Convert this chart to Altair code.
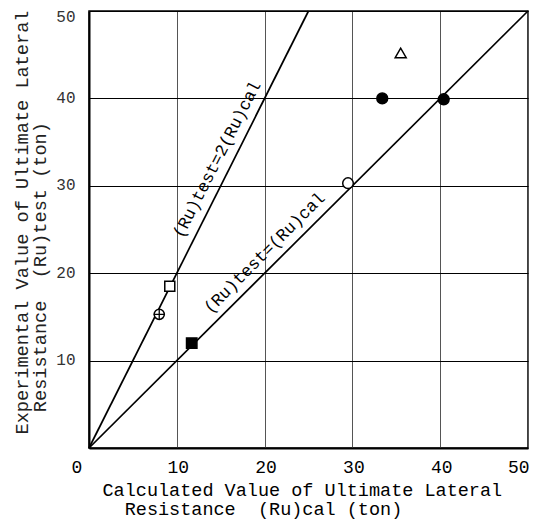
import altair as alt
import pandas as pd

# ---- data ----
point_kind = ["open square", "circle plus", "filled square", "open circle",
              "filled circle", "filled circle", "open triangle"]
point_x = [9.2, 8.0, 11.7, 29.5, 33.4, 40.4, 35.5]
point_y = [18.5, 15.3, 12.0, 30.3, 40.0, 39.9, 45.2]

line_name = ["(Ru)test=2(Ru)cal", "(Ru)test=2(Ru)cal", "(Ru)test=(Ru)cal", "(Ru)test=(Ru)cal"]
line_x = [0, 25, 0, 50]
line_y = [0, 50, 0, 50]

label_text = ["(Ru)test=2(Ru)cal", "(Ru)test=(Ru)cal"]
label_x = [14.6, 20.0]
label_y = [33.0, 22.3]
label_angle = [297, 315]

x_ticks = [0, 10, 20, 30, 40, 50]
y_ticks = [10, 20, 30, 40, 50]

pts = pd.DataFrame({"kind": point_kind, "x": point_x, "y": point_y})
lines = pd.DataFrame({"name": line_name, "x": line_x, "y": line_y})
labels = pd.DataFrame({"text": label_text, "x": label_x, "y": label_y, "angle": label_angle})

MONO = "Liberation Mono"
IND = "\u200b\u00a0\u00a0"

xscale = alt.Scale(domain=[0, 50], nice=False, zero=False)
yscale = alt.Scale(domain=[0, 50], nice=False, zero=False)

x_axis = alt.Axis(
    values=x_ticks, grid=True, ticks=False, domain=True,
    domainColor="black", domainWidth=2,
    gridColor="#555555", gridWidth=1,
    labelFont=MONO, labelFontSize=18, labelColor="black", labelPadding=10,
    labelOffset={"condition": {"test": "datum.value == 0", "value": -18}, "value": 1},
    title=["Calculated Value of Ultimate Lateral",
           IND + "Resistance\u00a0\u00a0(Ru)cal\u00a0(ton)"],
    titleFont=MONO, titleFontSize=18.5, titleFontWeight="normal", titleColor="black",
    titleAlign="left", titleBaseline="alphabetic", titleX=13, titleY=47,
    titleLineHeight=19,
)
y_axis = alt.Axis(
    values=y_ticks, grid=True, ticks=False, domain=True,
    domainColor="black", domainWidth=2,
    gridColor="black", gridWidth=1,
    labelFont=MONO, labelFontSize=16, labelColor="#333333", labelPadding=14,
    labelOffset={"condition": {"test": "datum.value == 50", "value": 5}, "value": -1},
    title=["Experimental Value of Ultimate Lateral",
           IND + "Resistance\u00a0\u00a0(Ru)test\u00a0(ton)"],
    titleFont=MONO, titleFontSize=18.6, titleFontWeight="normal", titleColor="#222222",
    titleAngle=270, titleAlign="left", titleBaseline="alphabetic",
    titleX=-62, titleY=423, titleLineHeight=18,
)

line_layer = alt.Chart(lines).mark_line(color="black", strokeWidth=1.7).encode(
    x=alt.X("x:Q", scale=xscale, axis=x_axis),
    y=alt.Y("y:Q", scale=yscale, axis=y_axis),
    detail="name:N",
)

kinds = ["open square", "circle plus", "filled square", "open circle", "filled circle", "open triangle"]
point_layer = alt.Chart(pts).mark_point(filled=True, stroke="black", strokeWidth=1.5, opacity=1).encode(
    x=alt.X("x:Q", scale=xscale),
    y=alt.Y("y:Q", scale=yscale),
    shape=alt.Shape("kind:N", legend=None, scale=alt.Scale(
        domain=kinds, range=["square", "circle", "square", "circle", "circle", "triangle-up"])),
    fill=alt.Fill("kind:N", legend=None, scale=alt.Scale(
        domain=kinds, range=["white", "white", "black", "white", "black", "white"])),
    size=alt.Size("kind:N", legend=None, scale=alt.Scale(
        domain=kinds, range=[100, 121, 100, 121, 121, 70])),
)

plus_layer = alt.Chart(pts).transform_filter(alt.datum.kind == "circle plus").mark_point(
    shape="M-1,0L1,0M0,-1L0,1", size=121, stroke="black", strokeWidth=1.3, filled=False, opacity=1
).encode(
    x=alt.X("x:Q", scale=xscale),
    y=alt.Y("y:Q", scale=yscale),
)

text_layer = alt.Chart(labels).mark_text(
    font=MONO, fontSize=17, color="black", align="center", baseline="middle"
).encode(
    x=alt.X("x:Q", scale=xscale),
    y=alt.Y("y:Q", scale=yscale),
    text="text:N",
    angle=alt.Angle("angle:Q", scale=None),
)

chart = alt.layer(line_layer, text_layer, point_layer, plus_layer).properties(
    width=439, height=437,
    autosize=alt.AutoSizeParams(type="none"),
    padding={"left": 81, "top": 3, "right": 16, "bottom": 74},
    background="white",
).configure_view(stroke="black", strokeWidth=1.5)

chart.save("out.html", embed_options={"renderer": "svg", "actions": False})
